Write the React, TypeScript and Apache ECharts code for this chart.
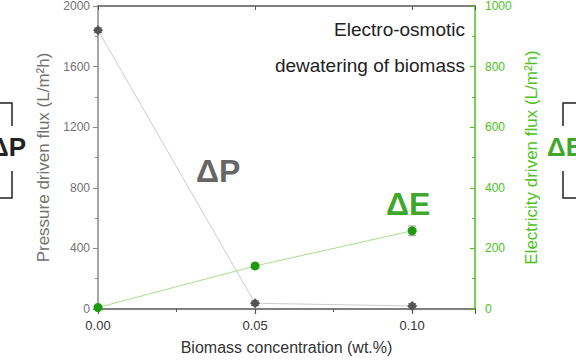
import React, { useEffect, useRef } from "react";
import * as echarts from "echarts";

const concentrations = [0, 0.05, 0.1];
const pressureFlux = [1840, 38, 20];
const pressureErr = [15, 15, 15];
const electricFlux = [5, 142, 258];
const electricErr = [4, 6, 16];
const xTickLabels = ["0.00", "0.05", "0.10"];

const FONT = "Liberation Sans";
const GRAY = "#727272";
const GREEN = "#4cc21c";
const PGRAY = "#555555";
const PGREEN = "#1e9a10";

function errorSeries(vals: number[], errs: number[], yAxisIndex: number, color: string) {
  return {
    type: "custom",
    yAxisIndex,
    z: 1,
    silent: true,
    data: concentrations.map((x, i) => [x, vals[i] - errs[i], vals[i] + errs[i]]),
    renderItem: (params: any, api: any) => {
      const x = api.value(0);
      const lo = api.coord([x, api.value(1)]);
      const hi = api.coord([x, api.value(2)]);
      const w = 4;
      return {
        type: "group",
        children: [
          { type: "line", shape: { x1: lo[0], y1: lo[1], x2: hi[0], y2: hi[1] }, style: { stroke: color, lineWidth: 1.2 } },
          { type: "line", shape: { x1: lo[0] - w, y1: lo[1], x2: lo[0] + w, y2: lo[1] }, style: { stroke: color, lineWidth: 1.2 } },
          { type: "line", shape: { x1: hi[0] - w, y1: hi[1], x2: hi[0] + w, y2: hi[1] }, style: { stroke: color, lineWidth: 1.2 } },
        ],
      };
    },
  };
}

export default function App() {
  const ref = useRef<HTMLDivElement>(null);
  useEffect(() => {
    if (!ref.current) return;
    const chart = echarts.init(ref.current, undefined, { renderer: "svg" });
    const bracket = (x0: number, x1: number) => [
      { type: "polyline", shape: { points: [[x0, 103], [x1, 103], [x1, 126]] }, style: { stroke: "#222", lineWidth: 1.5, fill: "none" } },
      { type: "polyline", shape: { points: [[x1, 171], [x1, 198], [x0, 198]] }, style: { stroke: "#222", lineWidth: 1.5, fill: "none" } },
    ];
    const txt = (text: string, size: number, color: string, weight: string = "normal") => ({
      text,
      fontSize: size,
      fontFamily: FONT,
      fontWeight: weight,
      fill: color,
    });
    chart.setOption({
      animation: false,
      grid: { left: 98, right: 101, top: 6, bottom: 51, containLabel: false, outerBoundsMode: "none" },
      xAxis: [
        {
          type: "value",
          min: 0,
          max: 0.12,
          interval: 0.05,
          position: "bottom",
          name: "Biomass concentration (wt.%)",
          nameLocation: "middle",
          nameGap: 30,
          nameTextStyle: { fontFamily: FONT, fontSize: 16, color: "#333" },
          axisLine: { show: true, onZero: false, lineStyle: { color: "#555", width: 1.5 } },
          axisTick: { show: true, length: 5, lineStyle: { color: "#555", width: 1.2 } },
          minorTick: { show: true, splitNumber: 2, length: 3, lineStyle: { color: "#555" } },
          splitLine: { show: false },
          axisLabel: {
            fontFamily: FONT,
            fontSize: 13,
            color: "#333",
            margin: 10,
            formatter: (v: number) => {
              const i = concentrations.findIndex((c) => Math.abs(c - v) < 1e-6);
              return i >= 0 ? xTickLabels[i] : "";
            },
          },
        },
        {
          type: "value",
          min: 0,
          max: 0.12,
          interval: 0.05,
          position: "top",
          axisLine: { show: true, onZero: false, lineStyle: { color: "#555", width: 1.5 } },
          axisTick: { show: true, inside: true, length: 4, lineStyle: { color: "#555" } },
          minorTick: { show: false },
          splitLine: { show: false },
          axisLabel: { show: false },
        },
      ],
      yAxis: [
        {
          type: "value",
          min: 0,
          max: 2000,
          interval: 400,
          position: "left",
          name: "Pressure driven flux (L/m²h)",
          nameLocation: "middle",
          nameGap: 45,
          nameTextStyle: { fontFamily: FONT, fontSize: 17, color: GRAY },
          axisLine: { show: true, onZero: false, lineStyle: { color: "#8a8a8a", width: 1.5 } },
          axisTick: { show: true, length: 5, lineStyle: { color: "#8a8a8a" } },
          minorTick: { show: true, splitNumber: 2, length: 3, lineStyle: { color: "#8a8a8a" } },
          splitLine: { show: false },
          axisLabel: { fontFamily: FONT, fontSize: 12, color: GRAY, margin: 8, formatter: (v: number) => String(v) },
        },
        {
          type: "value",
          min: 0,
          max: 1000,
          interval: 200,
          position: "right",
          name: "Electricity driven flux (L/m²h)",
          nameLocation: "middle",
          nameGap: 42,
          nameTextStyle: { fontFamily: FONT, fontSize: 17, color: GREEN },
          axisLine: { show: true, onZero: false, lineStyle: { color: GREEN, width: 1.5 } },
          axisTick: { show: true, inside: true, length: 5, lineStyle: { color: GREEN } },
          minorTick: { show: true, splitNumber: 2, length: 3, lineStyle: { color: GREEN } },
          splitLine: { show: false },
          axisLabel: { fontFamily: FONT, fontSize: 12, color: GREEN, margin: 10, formatter: (v: number) => String(v) },
        },
      ],
      series: [
        errorSeries(pressureFlux, pressureErr, 0, "#777"),
        errorSeries(electricFlux, electricErr, 1, "#aaa"),
        {
          type: "line",
          yAxisIndex: 0,
          data: concentrations.map((x, i) => [x, pressureFlux[i]]),
          symbol: "diamond",
          symbolSize: 10,
          itemStyle: { color: PGRAY },
          lineStyle: { color: "#cccccc", width: 1 },
          z: 3,
        },
        {
          type: "line",
          yAxisIndex: 1,
          data: concentrations.map((x, i) => [x, electricFlux[i]]),
          symbol: "circle",
          symbolSize: 9,
          itemStyle: { color: PGREEN },
          lineStyle: { color: "#a6e08c", width: 1 },
          z: 3,
        },
      ],
      graphic: [
        { type: "text", right: 111, top: 20, style: txt("Electro-osmotic", 19, "#222") },
        { type: "text", right: 111, top: 56, style: txt("dewatering of biomass", 19, "#222") },
        { type: "text", left: 196, top: 155, style: txt("ΔP", 32, "#666", "bold") },
        { type: "text", left: 386, top: 188, style: txt("ΔE", 32, "#3fa82c", "bold") },
        { type: "text", left: -10, top: 134, style: txt("ΔP", 26, "#222", "bold") },
        { type: "text", left: 547, top: 134, style: txt("ΔE", 26, "#3fa82c", "bold") },
        ...bracket(0, 12),
        ...bracket(576, 563),
      ],
    });
    return () => chart.dispose();
  }, []);
  return <div ref={ref} style={{ width: 576, height: 360, position: "absolute", left: 0, top: 0 }} />;
}
